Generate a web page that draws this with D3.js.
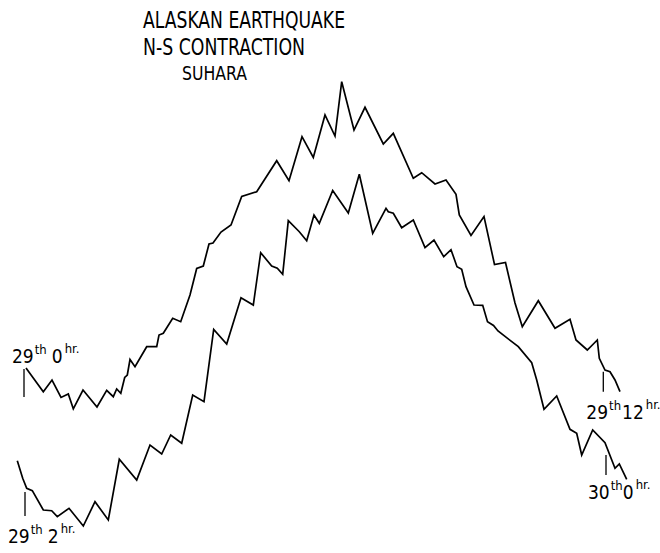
<!DOCTYPE html>
<html>
<head>
<meta charset="utf-8">
<script src="https://cdn.jsdelivr.net/npm/d3@7"></script>
<style>
  html, body { margin: 0; padding: 0; background: #fff; }
  svg { display: block; }
  text { font-family: "Liberation Sans Narrow", "DejaVu Sans Condensed", "Liberation Sans", sans-serif; fill: #000; }
</style>
</head>
<body>
<svg id="chart" width="660" height="553"></svg>
<script>
// Title lines of the record sheet
const titleLines = ["ALASKAN EARTHQUAKE", "N-S CONTRACTION", "SUHARA"];

// Trace positions along the record (mm) and strain readings (arbitrary units)
// Upper trace: 29th 0hr -> 29th 12hr
const upperX = [2.6, 4.33, 5.2, 6.1, 6.83, 7.33, 8.3, 9.7, 10.67, 11.33, 11.67, 12.08, 12.47, 12.73, 13.0, 13.5,
  14.67, 15.67, 15.9, 16.33, 17.27, 18.07, 19.0, 19.67, 20.33, 20.9, 21.3, 22.1, 23.1, 24.17, 25.67, 27.67,
  28.9, 30.2, 31.33, 32.5, 33.5, 34.17, 35.4, 36.5, 38.33, 39.33, 41.33, 42.17, 43.5, 44.6, 45.6, 45.93,
  47.1, 48.4, 49.45, 50.55, 51.5, 52.23, 53.83, 55.5, 57.0, 57.6, 58.73, 59.73, 59.93, 60.5, 61.0, 61.5, 62.0];
const upperY = [17.2, 14.83, 16.0, 14.25, 14.6, 13.12, 15.0, 13.3, 14.97, 14.33, 15.1, 14.67, 16.25, 16.5, 18.05, 17.33,
  19.33, 19.33, 20.5, 20.67, 22.17, 21.83, 24.5, 27.15, 27.4, 29.6, 29.7, 30.8, 31.5, 34.35, 34.83, 37.93,
  35.93, 40.33, 38.25, 42.5, 40.4, 45.83, 41.0, 43.27, 39.6, 40.67, 36.17, 36.73, 35.6, 36.0, 34.57, 32.5,
  30.45, 32.35, 27.55, 27.75, 23.7, 21.33, 23.93, 21.17, 22.07, 20.0, 19.0, 20.0, 18.17, 17.0, 16.83, 16.0, 14.83];

// Lower trace: 29th 2hr -> 30th 0hr
const lowerX = [1.73, 2.27, 2.67, 3.23, 4.33, 5.17, 5.73, 6.9, 8.33, 9.5, 10.83, 11.93, 13.67, 15.0, 16.17, 17.07,
  18.17, 19.27, 20.4, 21.37, 22.67, 24.1, 25.33, 26.07, 27.17, 27.73, 28.27, 28.83, 29.93, 30.67, 31.4, 31.93,
  33.27, 34.83, 35.93, 37.27, 38.6, 38.83, 39.33, 40.17, 41.33, 42.5, 43.4, 44.37, 45.1, 45.7, 46.17, 46.6,
  47.4, 48.27, 48.75, 49.35, 49.8, 51.83, 53.17, 53.67, 54.4, 55.67, 57.0, 57.67, 58.17, 59.27, 60.5, 61.5, 61.93, 62.67];
const lowerY = [7.93, 6.17, 5.17, 4.93, 3.0, 2.93, 2.33, 3.17, 1.4, 3.83, 2.0, 8.07, 6.0, 9.5, 8.6, 10.5,
  9.67, 14.5, 13.83, 21.05, 19.6, 24.23, 23.5, 28.73, 27.4, 27.17, 26.57, 31.93, 30.83, 29.93, 32.5, 31.67,
  34.95, 32.7, 36.57, 30.67, 33.17, 32.83, 32.67, 31.23, 32.0, 29.23, 30.0, 28.33, 29.03, 27.33, 27.07, 25.33,
  23.5, 23.47, 21.83, 21.45, 20.9, 19.33, 17.73, 16.0, 13.07, 14.4, 11.07, 10.67, 8.5, 11.0, 9.73, 7.17, 7.6, 6.07];

// Time marks: position (mm), reading span of the mark, and label parts [day, "th", hour, "hr."]
const markX   = [2.4, 60.33, 2.5, 60.6];
const markTop = [17.1, 16.83, 4.8, 8.5];
const markBot = [14.3, 14.83, 2.4, 6.5];
const markDay  = ["29", "29", "29", "30"];
const markHour = ["0", "12", "2", "0"];

const W = 660, H = 553;
const x = d3.scaleLinear().domain([0, 66]).range([0, W]);
const y = d3.scaleLinear().domain([0, 47]).range([540, 70]);

const svg = d3.select("#chart");

// Title block
const titleSize = [23, 23, 20];
const titleBase = [28, 55, 79.5];
const titleLeft = [143, 143, 182];
const titleLen  = [202, 162, 65];
titleLines.forEach((t, i) => {
  svg.append("text")
    .attr("x", titleLeft[i]).attr("y", titleBase[i])
    .attr("font-size", titleSize[i])
    .attr("textLength", titleLen[i])
    .attr("lengthAdjust", "spacingAndGlyphs")
    .text(t);
});

// Traces
const line = d3.line().x(d => x(d[0])).y(d => y(d[1])).curve(d3.curveLinear);
const upper = upperX.map((v, i) => [v, upperY[i]]);
const lower = lowerX.map((v, i) => [v, lowerY[i]]);
[upper, lower].forEach(series => {
  svg.append("path")
    .datum(series)
    .attr("d", line)
    .attr("fill", "none")
    .attr("stroke", "#000")
    .attr("stroke-width", 1.7)
    .attr("stroke-linejoin", "miter")
    .attr("stroke-linecap", "butt");
});

// Time marks
markX.forEach((m, i) => {
  svg.append("line")
    .attr("x1", x(m)).attr("x2", x(m))
    .attr("y1", y(markTop[i])).attr("y2", y(markBot[i]))
    .attr("stroke", "#000").attr("stroke-width", 1.3);
});

// Time labels with superscript suffixes; offsets relative to each mark
const labelDx = [-12, -17, -17, -18];
const labelDy = [-6, 27, 27, 24];   // from the top (first) / bottom of mark
const gap     = [5, 1, 5, 0];
markX.forEach((m, i) => {
  const anchorY = (i === 0) ? y(markTop[i]) : y(markBot[i]);
  const t = svg.append("text")
    .attr("x", x(m) + labelDx[i])
    .attr("y", anchorY + labelDy[i])
    .attr("font-size", 19);
  t.append("tspan").text(markDay[i]);
  t.append("tspan").attr("font-size", 13).attr("dy", -9).attr("dx", 1).text("th");
  t.append("tspan").attr("dy", 9).attr("dx", gap[i]).text(markHour[i]);
  t.append("tspan").attr("font-size", 13).attr("dy", -10).attr("dx", 2).text("hr.");
});
</script>
</body>
</html>
